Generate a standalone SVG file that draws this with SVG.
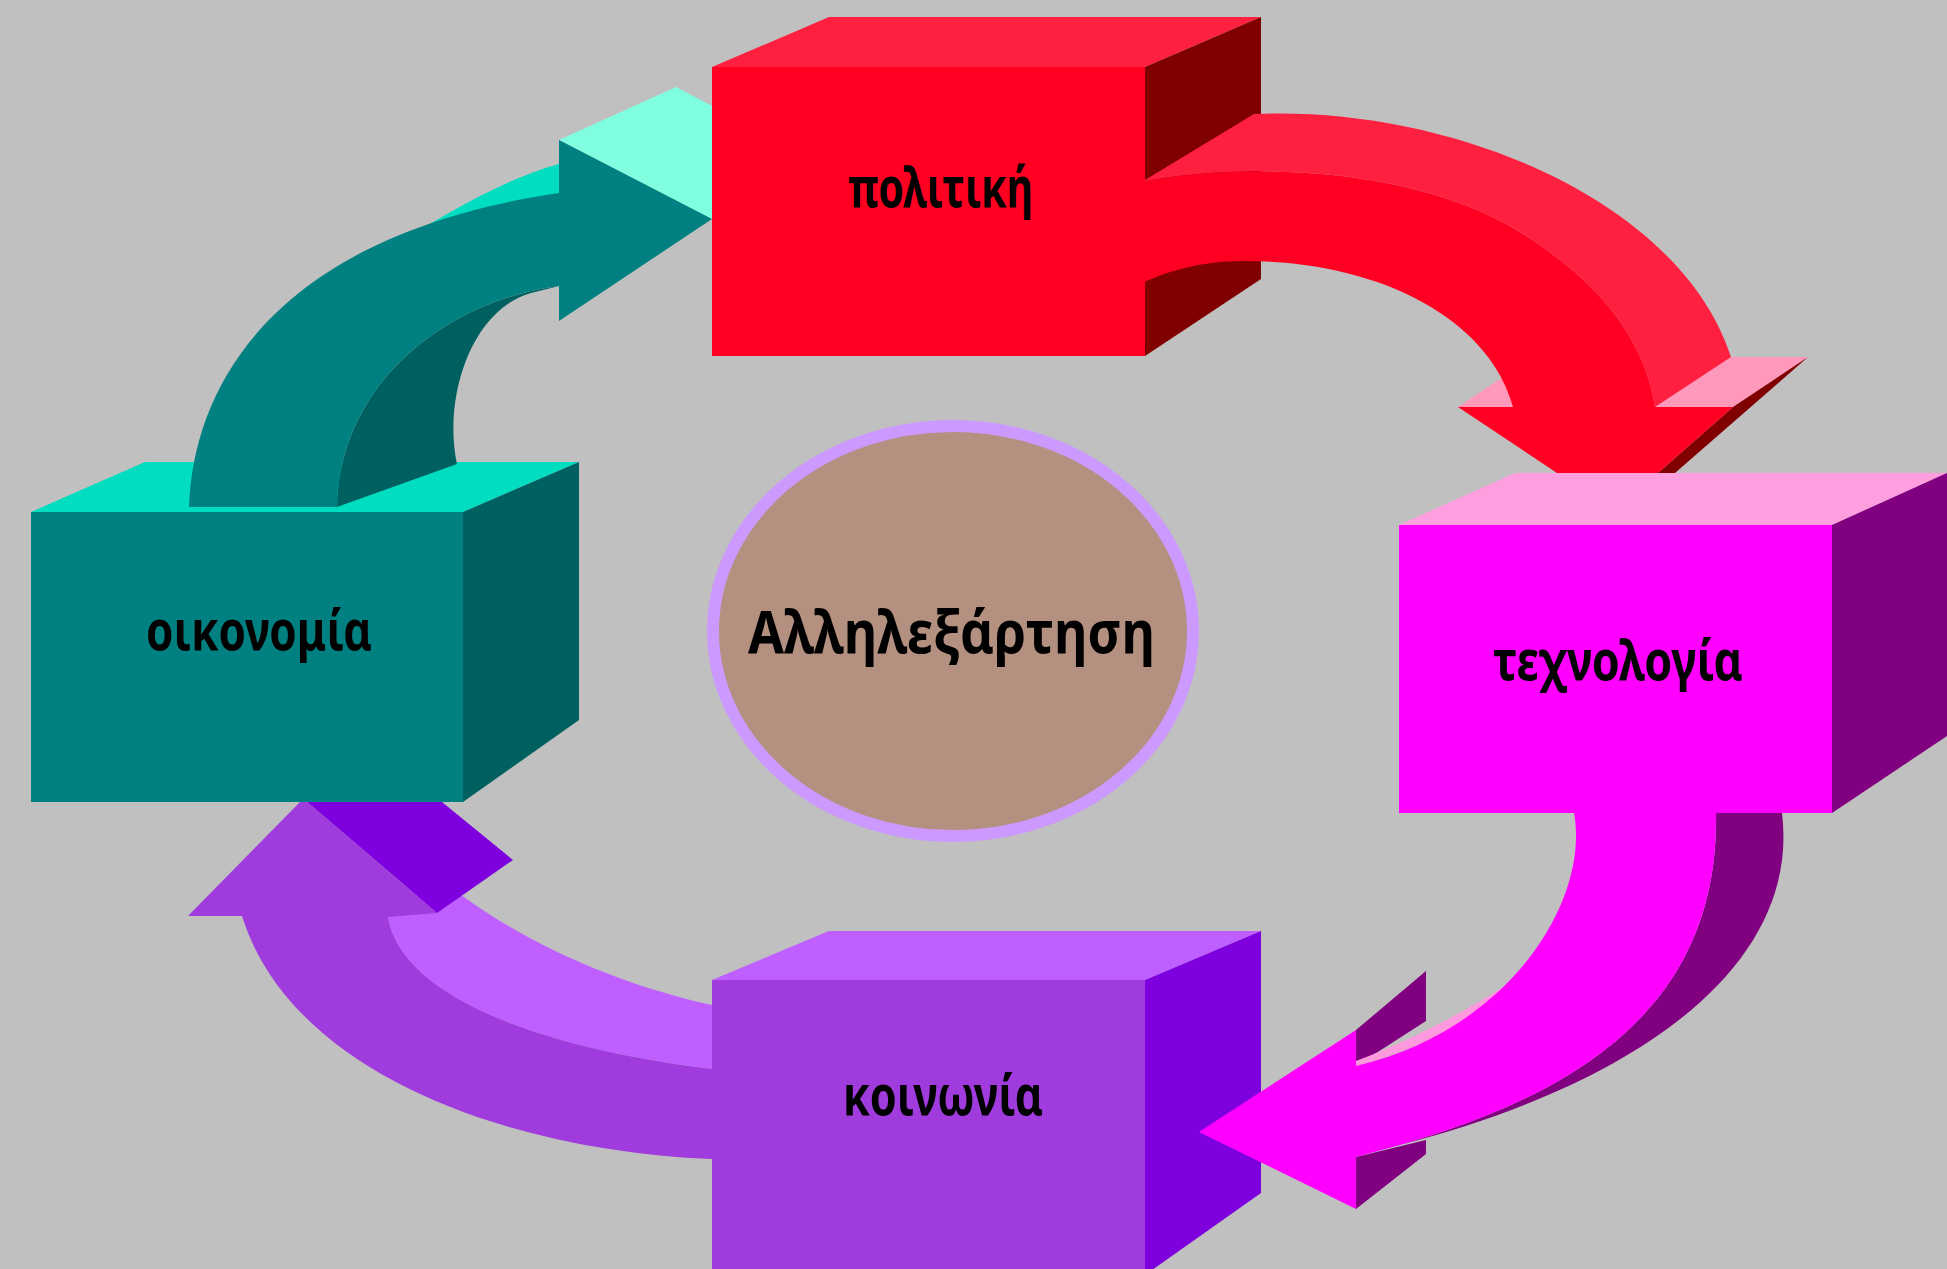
<svg xmlns="http://www.w3.org/2000/svg" width="1947" height="1269" viewBox="0 0 1947 1269">
<style>
.lbl{font-family:"Noto Sans","DejaVu Sans",sans-serif;font-weight:700;font-size:56px;fill:#000}
.center{font-size:60px}
.red-f{fill:#FF0022}.red-t{fill:#FF2040}.red-s{fill:#800000}.red-p{fill:#FF99BB}
.teal-f{fill:#008080}.teal-t{fill:#00DDC0}.teal-s{fill:#006060}.teal-p{fill:#80FFE0}
.mag-f{fill:#FF00FF}.mag-t{fill:#FF9FDF}.mag-s{fill:#800080}.mag-p{fill:#FF99DD}
.pur-f{fill:#A03CDE}.pur-t{fill:#BF5FFF}.pur-s{fill:#7F00DF}
</style>
<rect x="0" y="0" width="1947" height="1269" fill="#C0C0C0"/>

<g id="node-oikonomia">
<polygon class="teal-t" points="31,512 145,462 579,462 463,512"/>
<polygon class="teal-s" points="463,512 579,462 579,720 463,802"/>
<rect class="teal-f" x="31" y="512" width="432" height="290"/>
<text class="lbl" x="146" y="650" textLength="226" lengthAdjust="spacingAndGlyphs">οικονομία</text>
</g>

<g id="node-politiki">
<polygon class="red-t" points="712,67 829,17 1261,17 1145,67"/>
<polygon class="red-s" points="1145,67 1261,17 1261,279 1145,356"/>
<rect class="red-f" x="712" y="67" width="433" height="289"/>
<text class="lbl" x="848" y="207" textLength="185" lengthAdjust="spacingAndGlyphs">πολιτική</text>
</g>

<g id="node-technologia">
<polygon class="mag-t" points="1399,525 1515,473 1947,473 1832,525"/>
<polygon class="mag-s" points="1832,525 1947,473 1947,736 1832,813"/>
<rect class="mag-f" x="1399" y="525" width="433" height="288"/>
<text class="lbl" x="1493" y="680" textLength="250" lengthAdjust="spacingAndGlyphs">τεχνολογία</text>
</g>

<g id="node-koinonia">
<polygon class="pur-t" points="712,980 829,931 1261,931 1145,980"/>
<polygon class="pur-s" points="1145,980 1261,931 1261,1193 1145,1275"/>
<rect class="pur-f" x="712" y="980" width="433" height="295"/>
<text class="lbl" x="843" y="1115" textLength="200" lengthAdjust="spacingAndGlyphs">κοινωνία</text>
</g>

<g id="connectors">
<g id="arrow-politiki-technologia">
<polygon class="red-p" points="1458,407 1733,407 1808,357 1533,357"/>
<polygon class="red-s" points="1733,407 1808,357 1675,473 1658,473"/>
<path class="red-t" d="M1145,180 L1254,114 C1450,105 1680,200 1731,357 L1655,407 C1645,340 1600,282 1520,232 C1420,170 1260,160 1140,182 Z"/>
<path class="red-f" d="M1140,182 C1260,160 1420,170 1520,232 C1600,282 1645,340 1655,407 L1733,407 L1658,473 L1557,473 L1458,407 L1513,407 C1490,320 1380,260 1242,261 C1200,261 1165,272 1140,284 Z"/>
</g>
<g id="arrow-technologia-koinonia">
<path class="mag-s" d="M1716,813 L1782,813 C1800,960 1650,1080 1400,1145 L1356,1157 C1540,1110 1720,1030 1716,813 Z"/>
<polygon class="mag-s" points="1356,1030 1426,971 1426,1021 1356,1066"/>
<polygon class="mag-s" points="1356,1209 1426,1154 1426,1140 1356,1157"/>
<path class="mag-p" d="M1503,987 C1460,1015 1400,1045 1356,1061 L1356,1067 C1420,1046 1470,1026 1505,992 Z"/>
<path class="mag-f" d="M1574,813 C1590,900 1510,1030 1356,1066 L1356,1030 L1199,1132 L1356,1209 L1356,1157 C1540,1110 1720,1030 1716,813 Z"/>
</g>
<g id="arrow-koinonia-oikonomia">
<path class="pur-t" d="M712,1005 C620,985 530,945 464,897 L440,885 L400,905 L388,917 C400,990 520,1045 712,1069 Z"/>
<polygon class="pur-s" points="307,802 442,802 513,860 437,913"/>
<path class="pur-f" d="M712,1159 C500,1150 290,1070 242,916 L188,916 L300,802 L307,802 L437,913 L388,917 C400,990 520,1045 712,1069 Z"/>
</g>
<g id="arrow-oikonomia-politiki">
<path class="teal-s" d="M337,507 L457,464 C443,400 470,310 531,293 L559,286 C450,300 340,380 337,507 Z"/>
<path class="teal-t" d="M398,243 C440,218 500,180 559,164 L559,200 L400,250 Z"/>
<polygon class="teal-p" points="559,140 676,87 712,106 712,219"/>
<path class="teal-f" d="M189,507 C194,370 292,232 559,193 L559,140 L712,219 L559,321 L559,286 C450,300 340,380 337,507 Z"/>
</g>
</g>

<g id="node-center">
<ellipse cx="953" cy="631" rx="240" ry="205" fill="#B39080" stroke="#CC99FF" stroke-width="12"/>
<text class="lbl center" x="748" y="653" textLength="407" lengthAdjust="spacingAndGlyphs">Αλληλεξάρτηση</text>
</g>
</svg>
